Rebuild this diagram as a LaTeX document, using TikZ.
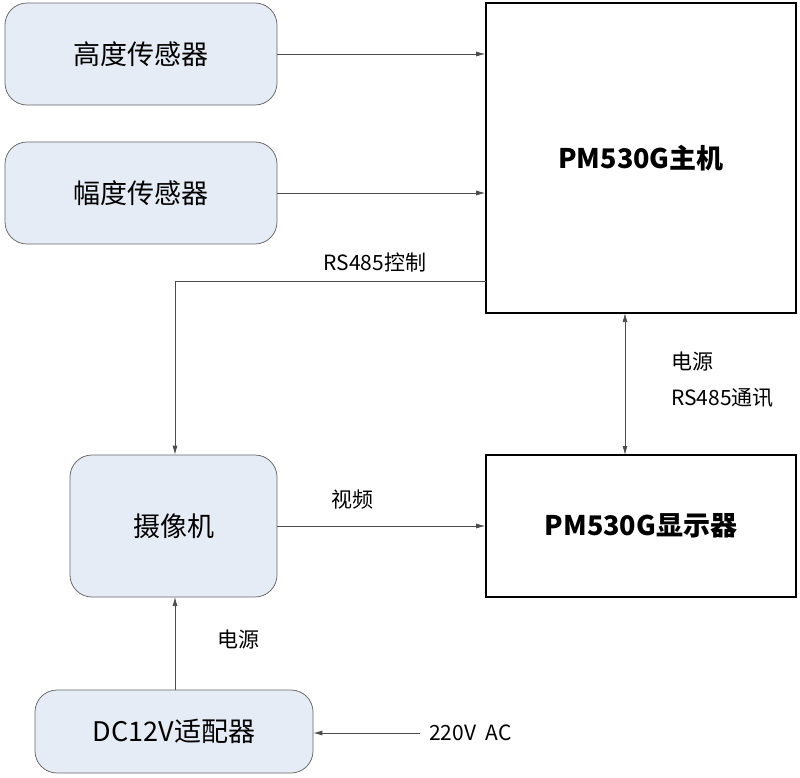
\documentclass[tikz,border=0pt]{standalone}
\usepackage{fontspec}
\setmainfont{Noto Sans CJK SC}
\usetikzlibrary{arrows.meta}
\definecolor{boxfill}{RGB}{230,236,246}
\tikzset{every picture/.style={line width=0.75pt}}
\tikzset{
  softbox/.style={draw=black!60,fill=boxfill,rounded corners=22pt,inner sep=0pt,font=\fontsize{27}{32}\selectfont},
  hardbox/.style={draw,line width=1.6pt,fill=white,inner sep=0pt,font=\bfseries\fontsize{27}{32}\selectfont},
  link/.style={draw=black!70,-{Latex[length=9pt,width=5pt]}},
  tag/.style={font=\fontsize{21}{25}\selectfont,inner sep=0.75pt}
}
\begin{document}
\begin{tikzpicture}[x=1pt,y=1pt,yscale=-1,xscale=1]
\useasboundingbox (0,0) rectangle (800,777);

% Boxes
\node[softbox,minimum width=272pt,minimum height=102pt] (height) at (141,54) {高度传感器};
\node[softbox,minimum width=272pt,minimum height=102pt] (width) at (141,193) {幅度传感器};
\node[hardbox,minimum width=310pt,minimum height=310pt] (host) at (641,158) {PM530G主机};
\node[softbox,minimum width=207pt,minimum height=142pt] (camera) at (173.5,526) {摄像机};
\node[hardbox,minimum width=310pt,minimum height=142pt] (display) at (641,526) {PM530G显示器};
\node[softbox,minimum width=278pt,minimum height=83pt] (adapter) at (174,731.5) {DC12V适配器};

% Connectors
\coordinate (ctrlstart) at (486,281);
\coordinate (ctrlbend) at (175,281);
\coordinate (acin) at (420,733);
\draw[link] (height.east) -- (height.east -| host.west);
\draw[link] (width.east) -- (width.east -| host.west);
\draw[link] (ctrlstart) -- (ctrlbend) -- (ctrlbend |- camera.north);
\draw[link,{Latex[length=9pt,width=5pt]}-{Latex[length=9pt,width=5pt]}] (625,313) -- (625,455);
\draw[link] (camera.east) -- (camera.east -| display.west);
\draw[link] (175,690) -- (175,597);
\draw[link] (acin) -- (acin -| adapter.east);

% Text Node
\node[tag] (ctrltag) at (375,262) {RS485控制};
\node[tag,anchor=west] (powtag) at (670,362) {电源};
\node[tag,anchor=west] (commtag) at (670,398) {RS485通讯};
\node[tag] (videotag) at (352,500) {视频};
\node[tag] (camtag) at (238,640) {电源};
\node[tag,anchor=west] (actag) at (428,733) {220V\ \ AC};

\end{tikzpicture}
\end{document}
